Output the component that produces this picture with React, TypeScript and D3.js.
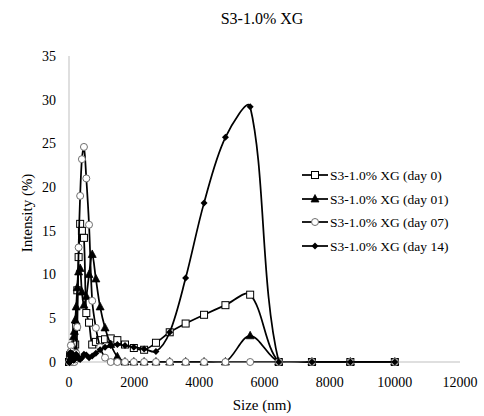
import React from "react";
import * as d3 from "d3";

const sizes = [10.1, 11.7, 13.54, 15.69, 18.17, 21.04, 24.36, 28.21, 32.67, 37.84, 43.82, 50.75, 58.77, 68.06, 78.82, 91.28, 105.7, 122.4, 141.8, 164.2, 190.1, 220.2, 255.0, 295.3, 342.0, 396.1, 458.7, 531.2, 615.1, 712.4, 825.0, 955.4, 1106, 1281, 1484, 1718, 1990, 2305, 2669, 3091, 3580, 4145, 4801, 5560, 6439, 7456, 8635, 10000];

const day0 = [0, 0, 0, 0, 0, 0, 0, 0.3, 0.6, 0.8, 0.6, 0.3, 0.2, 0.3, 0.5, 0.4, 0.2, 0.3, 0.6, 1.0, 2.0, 4.0, 8.2, 12.0, 15.8, 15.0, 14.2, 5.6, 4.5, 2.0, 2.3, 2.5, 2.6, 2.7, 2.5, 2.0, 1.6, 1.4, 2.2, 3.4, 4.4, 5.4, 6.5, 7.7, 0, 0, 0, 0];
const day01 = [0, 0, 0, 0, 0, 0, 0, 0, 0, 0, 0.3, 0.8, 1.2, 0.8, 0.5, 0.8, 1.2, 1.8, 2.9, 3.5, 4.8, 6.3, 8.5, 10.3, 10.7, 8.0, 6.5, 7.5, 10.0, 12.3, 9.5, 6.3, 3.9, 2.0, 0.6, 0, 0, 0, 0, 0, 0, 0, 0, 3.0, 0, 0, 0, 0];
const day07 = [0, 0, 0, 0, 0, 0, 0, 0, 0, 0, 0.5, 1.2, 1.9, 1.2, 0.5, 0.2, 0, 0, 0, 0, 0.3, 1.0, 4.0, 13.1, 19.0, 23.2, 24.6, 21.0, 15.7, 7.0, 3.9, 1.7, 0.5, 0, 0, 0, 0, 0, 0, 0, 0, 0, 0, 0, 0, 0, 0, 0];
const day14 = [0, 0, 0, 0, 0, 0, 0, 0.3, 0.7, 1.0, 1.1, 0.9, 0.6, 0.5, 0.7, 1.0, 0.8, 0.4, 0.2, 0.3, 0.6, 0.9, 0.7, 0.4, 0.3, 0.5, 0.9, 0.8, 0.5, 0.7, 1.0, 1.4, 1.7, 1.9, 2.0, 1.9, 1.7, 1.5, 1.2, 3.4, 9.6, 18.2, 25.7, 29.2, 0, 0, 0, 0];

const seriesNames = ["S3-1.0% XG (day 0)", "S3-1.0% XG (day 01)", "S3-1.0% XG (day 07)", "S3-1.0% XG (day 14)"];
const seriesValues = [day0, day01, day07, day14];
const markerKinds = ["square", "triangle", "circle", "diamond"];

const xTicks = [0, 2000, 4000, 6000, 8000, 10000, 12000];
const yTicks = [0, 5, 10, 15, 20, 25, 30, 35];

const title = "S3-1.0% XG";
const xTitle = "Size (nm)";
const yTitle = "Intensity (%)";

const W = 484;
const H = 416;
const M = { left: 69, right: 460, top: 56, bottom: 362 };
const FONT = "Liberation Serif, Tinos, DejaVu Serif, serif";
const tStyle = { fontFamily: FONT };

type P = [number, number];

function smoothPath(pts: P[]): string {
  const p = d3.path();
  if (!pts.length) return "";
  p.moveTo(pts[0][0], pts[0][1]);
  const dist = (a: P, b: P) => Math.hypot(b[0] - a[0], b[1] - a[1]);
  for (let i = 0; i < pts.length - 1; i++) {
    const P0 = pts[i - 1] || pts[i];
    const P1 = pts[i];
    const P2 = pts[i + 1];
    const P3 = pts[i + 2] || pts[i + 1];
    const d0 = dist(P0, P1);
    const d1 = dist(P1, P2);
    const d2 = dist(P2, P3);
    const f1 = d0 + d1 > 0 ? d1 / (d0 + d1) / 3 : 0;
    const f2 = d1 + d2 > 0 ? d1 / (d1 + d2) / 3 : 0;
    const c1x = P1[0] + (P2[0] - P0[0]) * f1;
    const c1y = P1[1] + (P2[1] - P0[1]) * f1;
    const c2x = P2[0] - (P3[0] - P1[0]) * f2;
    const c2y = P2[1] - (P3[1] - P1[1]) * f2;
    p.bezierCurveTo(c1x, c1y, c2x, c2y, P2[0], P2[1]);
  }
  return p.toString();
}

function Marker({ kind, x, y }: { kind: string; x: number; y: number }) {
  if (kind === "square") {
    return <rect x={x - 3.5} y={y - 3.5} width={7} height={7} fill="#fff" stroke="#000" strokeWidth={1} />;
  }
  if (kind === "triangle") {
    return <path d={`M${x},${y - 4.5}L${x + 4},${y + 3}L${x - 4},${y + 3}Z`} fill="#000" stroke="#000" strokeWidth={0.75} />;
  }
  if (kind === "circle") {
    return <circle cx={x} cy={y} r={3.5} fill="#fff" stroke="#6e6e6e" strokeWidth={1} />;
  }
  return <path d={`M${x},${y - 3.5}L${x + 3.5},${y}L${x},${y + 3.5}L${x - 3.5},${y}Z`} fill="#000" />;
}

export default function App() {
  const x = d3.scaleLinear().domain([0, 12000]).range([M.left, M.right]);
  const y = d3.scaleLinear().domain([0, 35]).range([M.bottom, M.top]);

  const legendY = [175, 199, 222, 246];

  return (
    <svg width={W} height={H} style={{ display: "block", position: "absolute", left: 0, top: 0, background: "#fff" }} fontFamily={FONT}>
      <defs>
        <clipPath id="plotClip">
          <rect x={M.left} y={M.top - 10} width={M.right - M.left} height={M.bottom - M.top + 10.5} />
        </clipPath>
      </defs>
      <rect x={0} y={0} width={W} height={H} fill="#fff" />
      <text x={262} y={24} textAnchor="middle" fontSize={16} fill="#000" style={tStyle}>{title}</text>

      <line x1={M.left} x2={M.left} y1={M.top} y2={M.bottom} stroke="#bfbfbf" strokeWidth={1} />
      <line x1={M.left} x2={M.right} y1={M.bottom} y2={M.bottom} stroke="#bfbfbf" strokeWidth={1} />

      {yTicks.map((t) => (
        <text key={"y" + t} x={56} y={y(t)} dy="0.35em" textAnchor="end" fontSize={14} fill="#000" style={tStyle}>{t}</text>
      ))}
      {xTicks.map((t) => (
        <text key={"x" + t} x={x(t)} y={387} textAnchor="middle" fontSize={14} fill="#000" style={tStyle}>{t}</text>
      ))}

      <text x={262} y={410} textAnchor="middle" fontSize={15} fill="#000" style={tStyle}>{xTitle}</text>
      <text transform={`translate(27,${213}) rotate(-90)`} textAnchor="middle" dy="0.35em" fontSize={15} fill="#000" style={tStyle}>{yTitle}</text>

      {seriesValues.map((vals, si) => {
        const pts: P[] = sizes.map((s, i) => [x(s), y(vals[i])]);
        return (
          <g key={"s" + si}>
            <path d={smoothPath(pts)} fill="none" stroke="#000" strokeWidth={1.75} clipPath="url(#plotClip)" />
            {pts.map((p, i) => (
              <Marker key={i} kind={markerKinds[si]} x={p[0]} y={p[1]} />
            ))}
          </g>
        );
      })}

      {seriesNames.map((n, i) => (
        <g key={"l" + i}>
          <line x1={302} x2={328} y1={legendY[i]} y2={legendY[i]} stroke="#000" strokeWidth={1.75} />
          <Marker kind={markerKinds[i]} x={315} y={legendY[i]} />
          <text x={330} y={legendY[i]} dy="0.35em" fontSize={13.5} fill="#000" style={tStyle}>{n}</text>
        </g>
      ))}
    </svg>
  );
}
